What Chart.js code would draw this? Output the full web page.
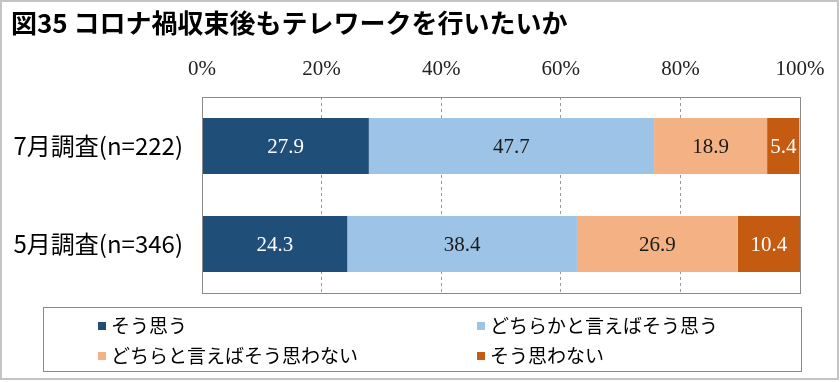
<!DOCTYPE html>
<html>
<head>
<meta charset="utf-8">
<script src="https://cdn.jsdelivr.net/npm/chart.js@4"></script>
<style>
  html, body { margin: 0; padding: 0; background: #fff; }
  #wrap { position: relative; width: 840px; height: 382px; overflow: hidden; }
  #c { position: absolute; left: 0; top: 0; }
  #frame { position: absolute; left: 0; top: 0; width: 839px; height: 380px; box-sizing: border-box; border: 2px solid #c4c4c4; pointer-events: none; }
  #title { position: absolute; left: 11px; top: 5px; font: bold 26px "Noto Sans CJK JP", sans-serif; color: #000; line-height: 34px; white-space: nowrap; }
  #legend { position: absolute; left: 43px; top: 307px; width: 759px; height: 65px; box-sizing: border-box; border: 1px solid #8a8a8a; }
  .li { position: absolute; font: 19px "Noto Sans CJK JP", sans-serif; line-height: 24px; height: 24px; white-space: nowrap; color: #000; }
  .li span.m { display: inline-block; width: 8px; height: 8px; margin-right: 5px; vertical-align: middle; position: relative; top: -2px; }
</style>
</head>
<body>
<div id="wrap">
  <canvas id="c" width="840" height="382"></canvas>
  <div id="title">図35 コロナ禍収束後もテレワークを行いたいか</div>
  <div id="legend"></div>
  <div id="frame"></div>
</div>
<script>
const categories = ['7月調査(n=222)', '5月調査(n=346)'];
const seriesNames = ['そう思う', 'どちらかと言えばそう思う', 'どちらと言えばそう思わない', 'そう思わない'];
const seriesStrong = [27.9, 24.3];
const seriesSomewhat = [47.7, 38.4];
const seriesSomewhatNot = [18.9, 26.9];
const seriesNot = [5.4, 10.4];
const tickValues = [0, 20, 40, 60, 80, 100];

const colors = ['#1f4e79', '#9dc3e6', '#f4b183', '#c55a11'];
const labelColors = ['#ffffff', '#1a1a1a', '#1a1a1a', '#ffffff'];
const seriesData = [seriesStrong, seriesSomewhat, seriesSomewhatNot, seriesNot];

// HTML legend
const legend = document.getElementById('legend');
const legendPos = [[54, 5], [433, 5], [54, 35], [433, 35]];
seriesNames.forEach((n, i) => {
  const d = document.createElement('div');
  d.className = 'li';
  d.style.left = legendPos[i][0] + 'px';
  d.style.top = legendPos[i][1] + 'px';
  d.innerHTML = '<span class="m" style="background:' + colors[i] + '"></span>' + n;
  legend.appendChild(d);
});

const valueLabels = {
  id: 'valueLabels',
  afterDatasetsDraw(chart) {
    const ctx = chart.ctx;
    ctx.save();
    ctx.font = '21px "Liberation Serif", serif';
    ctx.textAlign = 'center';
    ctx.textBaseline = 'middle';
    chart.data.datasets.forEach((ds, di) => {
      const meta = chart.getDatasetMeta(di);
      meta.data.forEach((el, i) => {
        const p = el.getProps(['x', 'y', 'base'], true);
        ctx.fillStyle = labelColors[di];
        ctx.fillText(ds.data[i].toFixed(1), (p.x + p.base) / 2, p.y + 1);
      });
    });
    ctx.restore();
  }
};

const plotFrame = {
  id: 'plotFrame',
  afterDatasetsDraw(chart) {
    const a = chart.chartArea;
    const ctx = chart.ctx;
    ctx.save();
    ctx.strokeStyle = '#8a8a8a';
    ctx.lineWidth = 1;
    ctx.strokeRect(Math.round(a.left) + 0.5, Math.round(a.top) + 0.5, Math.round(a.right - a.left), Math.round(a.bottom - a.top));
    ctx.restore();
  }
};

new Chart(document.getElementById('c'), {
  type: 'bar',
  data: {
    labels: categories,
    datasets: seriesNames.map((n, i) => ({
      label: n,
      data: seriesData[i],
      backgroundColor: colors[i],
      borderWidth: 0,
      categoryPercentage: 1,
      barPercentage: 0.57
    }))
  },
  options: {
    indexAxis: 'y',
    responsive: false,
    animation: false,
    layout: { padding: { left: 0, right: 40, top: 50, bottom: 89 } },
    plugins: { legend: { display: false }, tooltip: { enabled: false } },
    scales: {
      x: {
        position: 'top',
        stacked: true,
        min: 0, max: 100,
        afterBuildTicks(scale) { scale.ticks = tickValues.map(v => ({ value: v })); },
        afterFit(scale) { scale.height = 47; },
        ticks: {
          callback: v => v + '%',
          font: { family: '"Liberation Serif", serif', size: 21 },
          color: '#222',
          padding: 15,
          maxRotation: 0
        },
        grid: {
          drawTicks: false,
          tickLength: 0,
          color: ctx => (ctx.tick && (ctx.tick.value === 0 || ctx.tick.value === 100)) ? 'rgba(0,0,0,0)' : '#9a9a9a',
          lineWidth: 1
        },
        border: { display: false, dash: [3, 3] }
      },
      y: {
        stacked: true,
        afterFit(scale) { scale.width = 202; },
        ticks: {
          font: { family: '"Noto Sans CJK JP", sans-serif', size: 24 },
          color: '#000',
          padding: 19
        },
        grid: { display: false, drawTicks: false },
        border: { display: false }
      }
    }
  },
  plugins: [valueLabels, plotFrame]
});
</script>
</body>
</html>
